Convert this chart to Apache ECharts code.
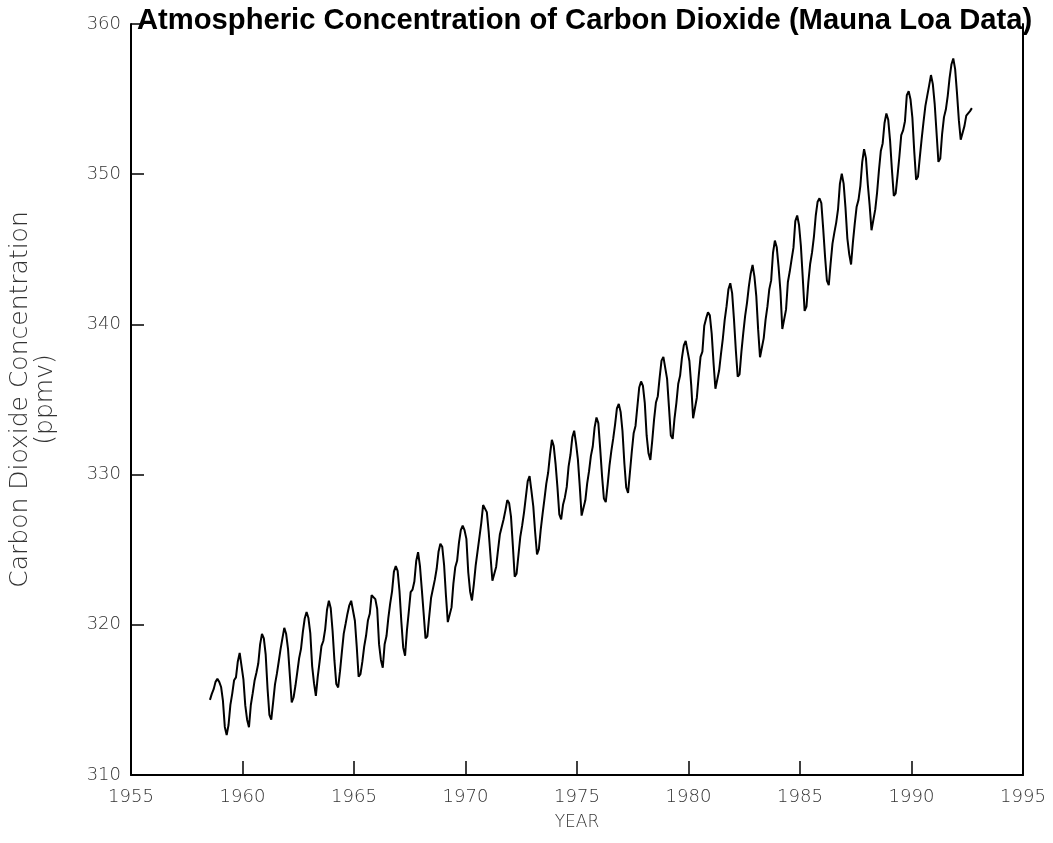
<!DOCTYPE html>
<html>
<head>
<meta charset="utf-8">
<script src="https://cdn.jsdelivr.net/npm/echarts@6/dist/echarts.min.js"></script>
<style>html,body{margin:0;padding:0;background:#fff;}#c{width:1053px;height:843px;}</style>
</head>
<body>
<div id="c"></div>
<script>
// Decimal year of the first monthly sample as placed in the picture
const startYear = 1958.54;
// Monthly CO2 concentration (ppmv), one row per year
const co2 = [
315.00,315.40,315.71,316.20,316.40,316.20,315.86,314.93,313.20,312.66,313.33,314.67,
315.42,316.31,316.50,317.56,318.13,318.00,316.39,314.65,313.68,313.18,314.66,315.43,
316.27,316.81,317.42,318.70,319.40,319.10,318.01,315.74,314.00,313.68,314.84,316.03,
316.73,317.54,318.38,319.10,319.80,319.40,318.42,316.63,314.83,315.16,315.94,316.85,
317.78,318.40,319.53,320.42,320.85,320.45,319.45,317.25,316.11,315.27,316.53,317.53,
318.58,318.92,319.70,321.00,321.60,321.10,319.58,317.61,316.05,315.83,316.91,318.20,
319.41,320.07,320.74,321.30,321.60,321.50,320.27,318.54,316.54,316.71,317.53,318.55,
319.27,320.28,320.73,321.97,322.00,321.71,321.05,318.71,317.66,317.14,318.70,319.25,
320.46,321.43,322.23,323.54,323.91,323.59,322.24,320.20,318.48,317.94,319.63,320.87,
322.17,322.34,322.88,324.25,324.83,323.93,322.38,320.76,319.10,319.24,320.56,321.80,
322.40,322.99,323.73,324.86,325.40,325.20,323.98,321.95,320.18,320.09,321.16,322.74,
323.83,324.26,325.47,326.30,326.60,326.30,325.72,323.50,322.22,321.62,322.69,323.95,
324.89,325.82,326.77,327.97,327.91,327.50,326.18,324.53,322.93,322.90,323.85,324.96,
326.01,326.51,327.01,327.62,328.30,328.10,327.20,325.27,323.20,323.40,324.63,325.85,
326.60,327.47,327.58,329.56,329.90,328.92,327.88,326.16,324.68,325.04,326.34,327.39,
328.37,329.40,330.14,331.33,332.31,331.90,330.70,329.15,327.35,327.02,327.99,328.48,
329.18,330.55,331.32,332.48,332.92,332.08,331.01,329.23,327.27,327.21,328.29,329.41,
330.23,331.25,331.87,333.14,333.80,333.43,331.73,329.90,328.40,328.17,329.32,330.59,
331.58,332.39,333.33,334.41,334.71,334.17,332.89,330.77,329.14,328.78,330.14,331.52,
332.75,333.24,334.53,335.80,336.20,335.90,334.76,332.59,331.42,330.98,332.24,333.68,
334.80,335.22,336.47,337.59,337.84,337.72,336.37,334.51,332.60,332.38,333.75,334.78,
336.05,336.59,337.79,338.60,338.90,338.80,337.56,335.92,333.75,333.70,335.12,336.56,
337.84,338.19,339.91,340.40,340.80,340.60,339.39,337.43,335.72,335.84,336.93,338.04,
339.06,340.30,341.21,342.33,342.74,342.08,340.32,338.26,336.52,336.68,338.19,339.44,
340.57,341.44,342.53,343.39,343.96,343.18,341.88,339.65,337.81,337.69,339.09,340.32,
341.20,342.35,342.93,344.77,345.58,345.14,343.81,342.21,339.69,339.82,340.98,342.82,
343.52,344.33,345.11,346.88,347.25,346.62,345.22,343.11,340.90,341.18,342.80,344.04,
344.79,345.82,347.25,348.17,348.40,348.07,346.38,344.51,342.92,342.62,344.06,345.38,
346.11,346.78,347.68,349.37,350.03,349.37,347.76,345.73,344.68,343.99,345.48,346.72,
347.84,348.29,349.23,350.80,351.66,351.07,349.33,347.92,346.27,346.18,347.64,348.78,
350.25,351.54,352.05,353.41,354.04,353.62,352.22,350.27,348.55,348.72,349.91,351.18,
352.60,352.92,353.53,355.26,355.52,354.97,353.75,351.52,349.64,349.83,351.14,352.37,
353.50,354.55,355.23,355.90,356.60,356.00,354.67,352.76,350.82,351.04,352.69,353.80,
354.30,355.20,356.40,357.30,357.70,357.00,355.40,353.60,352.30,352.30,353.20,353.90,
354.00,354.20,354.40
];
const xRange = {min: 1955, max: 1995, step: 5};
const yRange = {min: 310, max: 360, step: 10};
const titleText = 'Atmospheric Concentration of Carbon Dioxide (Mauna Loa Data)';
const yName = 'Carbon Dioxide Concentration\n(ppmv)';
const xName = 'YEAR';

const seriesData = co2.map((v, i) => [startYear + i / 12, v]);

const labelFont = {color: '#333', fontFamily: 'DejaVu Sans', fontSize: 18, fontWeight: 300};
const chart = echarts.init(document.getElementById('c'), null, {renderer: 'canvas'});
chart.setOption({
  animation: false,
  backgroundColor: '#fff',
  title: {
    text: titleText, left: 132, top: 1,
    textStyle: {fontFamily: 'Liberation Sans', fontWeight: 'bold', fontSize: 29.2, color: '#000'}
  },
  grid: {left: 128, right: 30, top: 24, bottom: 68, containLabel: false},
  xAxis: {
    type: 'value', min: xRange.min, max: xRange.max, interval: xRange.step,
    axisLine: {show: true, lineStyle: {color: '#000', width: 2}},
    axisTick: {show: true, inside: true, length: 14, lineStyle: {color: '#000', width: 1.5}},
    axisLabel: Object.assign({margin: 13, formatter: v => String(v)}, labelFont),
    splitLine: {show: false},
    name: xName, nameLocation: 'middle', nameGap: 39,
    nameTextStyle: Object.assign({}, labelFont, {fontSize: 17})
  },
  yAxis: [{
    type: 'value', min: yRange.min, max: yRange.max, interval: yRange.step,
    axisLine: {show: true, lineStyle: {color: '#000', width: 2}},
    axisTick: {show: true, inside: true, length: 13, lineStyle: {color: '#000', width: 1.5}},
    axisLabel: Object.assign({margin: 10, formatter: v => String(v)}, labelFont),
    splitLine: {show: false},
    name: yName, nameLocation: 'middle', nameGap: 73, nameRotate: 90,
    nameTextStyle: Object.assign({}, labelFont, {fontSize: 25, lineHeight: 25})
  }, {
    type: 'value', position: 'right', min: yRange.min, max: yRange.max, interval: yRange.step,
    axisLine: {show: true, lineStyle: {color: '#000', width: 2}},
    axisTick: {show: false}, axisLabel: {show: false}, splitLine: {show: false}
  }],
  series: [{
    type: 'line', data: seriesData, showSymbol: false, yAxisIndex: 0,
    lineStyle: {color: '#000', width: 2}, itemStyle: {color: '#000'}
  }]
});
</script>
</body>
</html>
